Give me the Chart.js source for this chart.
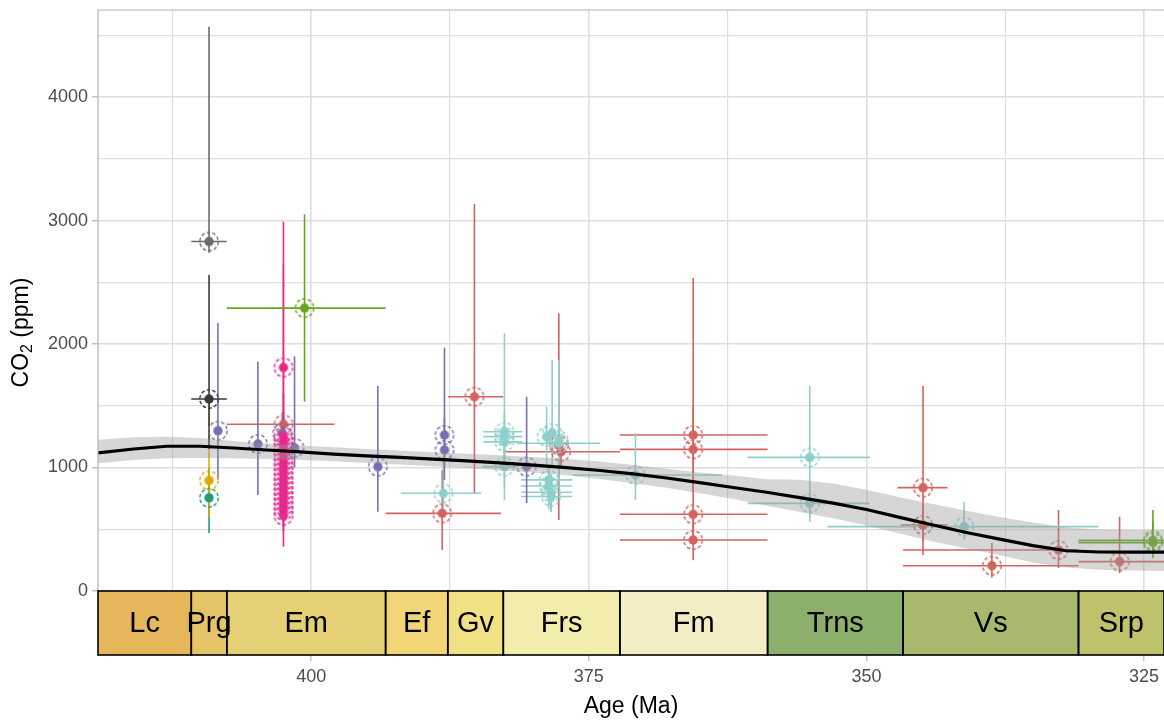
<!DOCTYPE html>
<html>
<head>
<meta charset="utf-8">
<script src="https://cdn.jsdelivr.net/npm/chart.js@4.4.1/dist/chart.umd.min.js"></script>
<style>
  html, body { margin: 0; padding: 0; background: #ffffff; }
  #wrap { width: 1164px; height: 722px; }
</style>
</head>
<body>
<div id="wrap"><canvas id="c" width="1164" height="722"></canvas></div>
<script>
// ---- proxy estimates: age (Ma), CO2 (ppm), uncertainty ranges, proxy group ----
const ptAge = [
  409.2, 409.2, 409.2, 409.2, 408.4, 404.8, 402.5, 402.5,
  402.5, 402.5, 402.5, 402.5, 402.5, 402.5, 402.5, 402.5, 402.5,
  402.5, 402.5, 402.5, 402.5, 402.5, 402.5, 402.5, 402.5,
  402.6, 401.5, 400.6, 394.0, 388.0, 388.0, 388.1, 388.2, 385.3,
  382.6, 382.6, 382.6, 382.6, 380.6, 378.8, 378.3, 377.7, 377.7, 377.5, 377.7,
  378.6, 378.6, 378.4, 378.4, 370.8,
  365.6, 365.6, 365.6, 365.6, 355.1, 355.1, 344.9, 344.9, 341.2,
  338.7, 332.7, 327.2, 324.2, 324.2
];
const ptCO2 = [
  2830, 1555, 895, 755, 1298, 1190, 1350, 1810,
  1250, 1210, 1170, 1130, 1090, 1050, 1010, 970, 930,
  890, 850, 810, 770, 730, 690, 650, 610,
  1280, 1160, 2291, 1007, 1263, 1142, 791, 629, 1573,
  1290, 1250, 1208, 1007, 1007, 1250, 1280, 1220, 1180, 1128, 1196,
  900, 850, 800, 765, 939,
  1263, 1147, 621, 413, 1082, 710, 837, 534, 521,
  205, 332, 238, 410, 392
];
const ptCO2Lo = [
  2740, 1150, 600, 470, 900, 777, 1150, 1300,
  1050, 1000, 980, 950, 900, 880, 850, 800, 760,
  720, 700, 650, 600, 560, 520, 480, 360,
  1100, 1000, 1533, 642, 1000, 900, 670, 332, 793,
  1150, 737, 1050, 850, 712, 1000, 1000, 900, 575, 1000, 1050,
  700, 660, 642, 642, 737,
  900, 800, 400, 250, 561, 600, 291, 400, 413,
  110, 186, 145, 267, 300
];
const ptCO2Hi = [
  4570, 2560, 1555, 1000, 2170, 1857, 2650, 2990,
  1600, 1450, 1400, 1350, 1300, 1250, 1200, 1150, 1120,
  1080, 1050, 1000, 950, 900, 880, 850, 820,
  1450, 1900, 3050, 1660, 1970, 1400, 1090, 980, 3133,
  1450, 2088, 1350, 1150, 1573, 1493, 1870, 1870, 2250, 1250, 1350,
  1000, 1000, 950, 900, 1279,
  2534, 1500, 900, 620, 1660, 820, 1660, 700, 723,
  391, 656, 602, 656, 560
];
const ptAgeOld = [
  410.8, 410.8, null, null, null, null, 407.6, null,
  null, null, null, null, null, null, null, null, null,
  null, null, null, null, null, null, null, null,
  null, null, 407.6, null, null, null, 391.9, 393.3, 387.7,
  384.5, 384.5, 384.5, 384.6, null, null, null, null, null, 382.7, 381.5,
  381.1, 381.1, 381.1, 381.1, 376.4,
  372.2, 372.2, 372.2, 372.2, 360.7, 360.7, 347.2, 346.9, 353.5,
  346.7, 346.7, 330.9, 330.9, 330.9
];
const ptAgeYoung = [
  407.6, 407.6, null, null, null, null, 397.9, null,
  null, null, null, null, null, null, null, null, null,
  null, null, null, null, null, null, null, null,
  null, null, 393.3, null, null, null, 384.7, 382.9, 382.7,
  381.0, 381.0, 381.0, 381.5, null, null, null, null, null, 372.2, 374.0,
  376.5, 376.5, 376.5, 376.5, 363.0,
  358.9, 358.9, 358.9, 358.9, 349.7, 349.7, 342.7, 342.7, 329.1,
  330.9, 331.0, 320.0, 323.2, 323.2
];
// 0 grey, 1 charcoal, 2 amber, 3 jade, 4 violet, 5 magenta, 6 olive, 7 coral, 8 aqua
const ptGroup = [
  0, 1, 2, 3, 4, 4, 7, 5,
  5, 5, 5, 5, 5, 5, 5, 5, 5,
  5, 5, 5, 5, 5, 5, 5, 5,
  4, 4, 6, 4, 4, 4, 8, 7, 7,
  8, 8, 8, 8, 4, 8, 8, 8, 7, 7, 8,
  8, 8, 8, 8, 8,
  7, 7, 7, 7, 8, 8, 7, 7, 8,
  7, 7, 7, 6, 6
];
const groupColors = ['#6B6B6B', '#3A3A3A', '#E6A800', '#1B9E77', '#7570B3', '#E7298A', '#66A61E', '#D4625E', '#8ECFCC'];
// stacking of groups, first drawn at the bottom
const groupStack = [7, 8, 4, 5, 3, 2, 6, 0, 1];

// ---- smoothed CO2 curve with its confidence band ----
const fitAge = [419.2, 416, 413, 410, 407, 404, 401, 398, 395, 392, 389, 386, 383, 380, 377, 374, 371, 368, 365, 362, 359, 356, 353, 350, 347, 344, 341, 338, 335, 332, 329, 326, 323.2];
const fitCO2 = [1118, 1150, 1172, 1172, 1158, 1142, 1126, 1109, 1094, 1082, 1068, 1054, 1038, 1020, 999, 976, 948, 915, 878, 838, 800, 756, 712, 660, 596, 534, 474, 420, 368, 326, 316, 315, 315];
const fitHi  = [1225, 1245, 1250, 1238, 1215, 1195, 1178, 1164, 1150, 1138, 1124, 1112, 1100, 1086, 1068, 1048, 1020, 990, 960, 935, 905, 900, 870, 820, 760, 705, 650, 600, 555, 515, 498, 494, 494];
const fitLo  = [1035, 1060, 1075, 1078, 1075, 1068, 1060, 1050, 1036, 1024, 1010, 996, 978, 960, 936, 906, 872, 836, 792, 745, 690, 640, 590, 530, 465, 400, 345, 290, 230, 190, 172, 165, 162];

// ---- geological stages ----
const stageNames  = ['Lc', 'Prg', 'Em', 'Ef', 'Gv', 'Frs', 'Fm', 'Trns', 'Vs', 'Srp'];
const stageOld    = [419.2, 410.8, 407.6, 393.3, 387.7, 382.7, 372.2, 358.9, 346.7, 330.9];
const stageYoung  = [410.8, 407.6, 393.3, 387.7, 382.7, 372.2, 358.9, 346.7, 330.9, 323.2];
const stageColors = ['#E5B75A', '#E5C468', '#E5D075', '#F1D576', '#F1E185', '#F2EDAD', '#F2EDC5', '#8CB06C', '#A6B96C', '#BFC26B'];

// ---- axis ticks (every value gets a grid line, majors get a label) ----
const xTickValues = [325, 337.5, 350, 362.5, 375, 387.5, 400, 412.5];
const xTicksMajor = 25;
const yTickValues = [0, 500, 1000, 1500, 2000, 2500, 3000, 3500, 4000, 4500];
const yTicksMajor = 1000;

const FONT = "'Liberation Sans', Arial, sans-serif";
Chart.defaults.font.family = FONT;

function marker(color) {
  const c = document.createElement('canvas');
  c.width = 24; c.height = 24;
  const g = c.getContext('2d');
  g.strokeStyle = color;
  g.lineWidth = 1.4;
  g.setLineDash([3.6, 2.2]);
  g.beginPath(); g.arc(12, 12, 9.2, 0, Math.PI * 2); g.stroke();
  g.setLineDash([]);
  g.fillStyle = color;
  g.beginPath(); g.arc(12, 12, 4.7, 0, Math.PI * 2); g.fill();
  return c;
}

const datasets = [];
datasets.push({
  label: 'fit', data: fitAge.map((a, i) => ({ x: a, y: fitCO2[i] })),
  borderColor: '#000000', borderWidth: 3.2, pointRadius: 0, tension: 0, fill: false, order: 0
});
datasets.push({
  label: 'lower', data: fitAge.map((a, i) => ({ x: a, y: fitLo[i] })),
  borderWidth: 0, borderColor: 'rgba(0,0,0,0)', pointRadius: 0, tension: 0, fill: false, order: 2
});
datasets.push({
  label: 'upper', data: fitAge.map((a, i) => ({ x: a, y: fitHi[i] })),
  borderWidth: 0, borderColor: 'rgba(0,0,0,0)', pointRadius: 0, tension: 0,
  fill: '-1', backgroundColor: 'rgba(153,153,153,0.4)', order: 1
});
groupStack.forEach((g, rank) => {
  const pts = [];
  ptAge.forEach((a, i) => { if (ptGroup[i] === g) pts.push({ x: a, y: ptCO2[i] }); });
  datasets.push({
    label: 'group' + g, data: pts, showLine: false,
    pointStyle: marker(groupColors[g]), pointRadius: 5, pointHoverRadius: 5,
    borderColor: groupColors[g], backgroundColor: groupColors[g],
    order: 100 - rank
  });
});

const decor = {
  id: 'decor',
  beforeDatasetsDraw(chart) {
    const { ctx, chartArea: a, scales: { x, y } } = chart;
    ctx.save();
    ctx.beginPath();
    ctx.rect(a.left, a.top, a.right - a.left, a.bottom - a.top);
    ctx.clip();
    ctx.lineWidth = 1.6;
    groupStack.forEach(g => {
      ctx.strokeStyle = groupColors[g];
      for (let i = 0; i < ptAge.length; i++) {
        if (ptGroup[i] !== g) continue;
        const px = x.getPixelForValue(ptAge[i]);
        const py = y.getPixelForValue(ptCO2[i]);
        if (ptCO2Lo[i] !== null) {
          ctx.beginPath();
          ctx.moveTo(px, y.getPixelForValue(ptCO2Lo[i]));
          ctx.lineTo(px, y.getPixelForValue(ptCO2Hi[i]));
          ctx.stroke();
        }
        if (ptAgeOld[i] !== null) {
          ctx.beginPath();
          ctx.moveTo(x.getPixelForValue(ptAgeOld[i]), py);
          ctx.lineTo(x.getPixelForValue(ptAgeYoung[i]), py);
          ctx.stroke();
        }
      }
    });
    ctx.restore();
  },
  afterDraw(chart) {
    const { ctx, chartArea: a, scales: { x } } = chart;
    ctx.save();
    // panel frame (top and left)
    ctx.strokeStyle = '#B3B3B3';
    ctx.lineWidth = 1.2;
    ctx.beginPath();
    ctx.moveTo(a.left, a.bottom);
    ctx.lineTo(a.left, a.top);
    ctx.lineTo(a.right + 2, a.top);
    ctx.stroke();

    // stage bar under the panel
    const top = a.bottom, h = 64;
    for (let i = 0; i < stageNames.length; i++) {
      const x0 = Math.max(a.left, x.getPixelForValue(stageOld[i]));
      const x1 = Math.min(a.right, x.getPixelForValue(stageYoung[i]));
      ctx.fillStyle = stageColors[i];
      ctx.fillRect(x0, top, x1 - x0, h);
    }
    ctx.strokeStyle = '#000000';
    ctx.lineWidth = 1.6;
    for (let i = 0; i < stageNames.length; i++) {
      const x0 = Math.max(a.left, x.getPixelForValue(stageOld[i]));
      const x1 = Math.min(a.right + 1, x.getPixelForValue(stageYoung[i]));
      ctx.strokeRect(x0, top, x1 - x0, h);
    }
    ctx.fillStyle = '#000000';
    ctx.font = '29px ' + FONT;
    ctx.textAlign = 'center';
    ctx.textBaseline = 'middle';
    for (let i = 0; i < stageNames.length; i++) {
      const x0 = Math.max(a.left, x.getPixelForValue(stageOld[i]));
      const x1 = Math.min(a.right, x.getPixelForValue(stageYoung[i]));
      ctx.fillText(stageNames[i], (x0 + x1) / 2, top + h / 2 + 1);
    }

    // axis titles
    ctx.fillStyle = '#000000';
    ctx.font = '23px ' + FONT;
    ctx.textAlign = 'center';
    ctx.textBaseline = 'middle';
    ctx.fillText('Age (Ma)', (a.left + a.right) / 2, 707);

    ctx.translate(22, (a.top + top + h) / 2);
    ctx.rotate(-Math.PI / 2);
    ctx.textAlign = 'left';
    const big = '23px ' + FONT, small = '16px ' + FONT;
    ctx.font = big; const w1 = ctx.measureText('CO').width;
    const w3 = ctx.measureText(' (ppm)').width;
    ctx.font = small; const w2 = ctx.measureText('2').width;
    let sx = -(w1 + w2 + w3) / 2;
    ctx.font = big; ctx.fillText('CO', sx, 0); sx += w1;
    ctx.font = small; ctx.fillText('2', sx, 6); sx += w2;
    ctx.font = big; ctx.fillText(' (ppm)', sx, 0);
    ctx.restore();
  }
};

new Chart(document.getElementById('c'), {
  type: 'line',
  data: { datasets },
  options: {
    responsive: false,
    animation: false,
    devicePixelRatio: 1,
    layout: { autoPadding: false, padding: { top: 10, left: 0, right: 0, bottom: 0 } },
    plugins: { legend: { display: false }, tooltip: { enabled: false } },
    events: [],
    scales: {
      x: {
        type: 'linear', reverse: true, min: 323.2, max: 419.2,
        afterBuildTicks(s) { s.ticks = xTickValues.map(v => ({ value: v })); },
        afterFit(s) { s.height = 131; s.paddingLeft = 0; s.paddingRight = 0; },
        border: { display: false },
        grid: {
          color: '#DEDEDE',
          lineWidth: c => (c.tick && Math.abs(c.tick.value % xTicksMajor) < 1e-6 ? 1.6 : 1.2),
          tickLength: 70,
          tickWidth: 1.2,
          tickColor: c => (c.tick && Math.abs(c.tick.value % xTicksMajor) < 1e-6 ? '#B3B3B3' : 'rgba(0,0,0,0)')
        },
        ticks: {
          autoSkip: false, maxRotation: 0,
          padding: 5, color: '#4D4D4D', font: { size: 18 },
          callback: v => (Math.abs(v % xTicksMajor) < 1e-6 ? String(v) : '')
        }
      },
      y: {
        type: 'linear', min: 0, max: 4705,
        afterBuildTicks(s) { s.ticks = yTickValues.map(v => ({ value: v })); },
        afterFit(s) { s.width = 98; s.paddingTop = 0; s.paddingBottom = 0; },
        border: { display: false },
        grid: {
          color: '#DEDEDE',
          lineWidth: c => (c.tick && c.tick.value % yTicksMajor === 0 ? 1.6 : 1.2),
          tickLength: 6,
          tickWidth: 1.2,
          tickColor: c => (c.tick && c.tick.value % yTicksMajor === 0 ? '#B3B3B3' : 'rgba(0,0,0,0)')
        },
        ticks: {
          autoSkip: false,
          padding: 4, color: '#4D4D4D', font: { size: 18 },
          callback: v => (v % yTicksMajor === 0 ? String(v) : '')
        }
      }
    }
  },
  plugins: [decor]
});
</script>
</body>
</html>
